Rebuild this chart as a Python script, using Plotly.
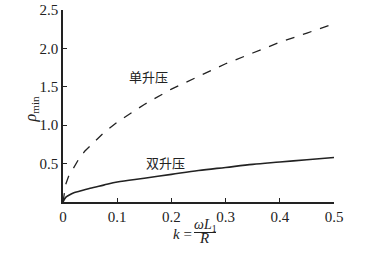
import plotly.graph_objects as go

k_vals = [0, 0.005, 0.01, 0.02, 0.03, 0.04, 0.05, 0.075, 0.1, 0.15, 0.2, 0.25, 0.3, 0.35, 0.4, 0.45, 0.5]
single_boost = [0, 0.23, 0.33, 0.46, 0.57, 0.66, 0.73, 0.90, 1.04, 1.27, 1.47, 1.64, 1.80, 1.94, 2.08, 2.20, 2.32]
double_boost = [0, 0.06, 0.085, 0.12, 0.14, 0.16, 0.18, 0.22, 0.26, 0.31, 0.36, 0.41, 0.45, 0.49, 0.52, 0.55, 0.58]

x_ticks = [0, 0.1, 0.2, 0.3, 0.4, 0.5]
x_tick_text = ["0", "0.1", "0.2", "0.3", "0.4", "0.5"]
y_ticks = [0.5, 1.0, 1.5, 2.0, 2.5]
y_tick_text = ["0.5", "1.0", "1.5", "2.0", "2.5"]

SERIF = "Liberation Serif, Times New Roman, serif"
CJK = "Noto Sans CJK SC"
INK = "#222222"

fig = go.Figure()
fig.add_trace(go.Scatter(x=k_vals, y=single_boost, mode="lines", line=dict(color=INK, width=1.3, dash="dash"), showlegend=False))
fig.add_trace(go.Scatter(x=k_vals, y=double_boost, mode="lines", line=dict(color=INK, width=1.6, shape="spline"), showlegend=False))

fig.update_layout(
    width=380, height=255,
    margin=dict(l=63, r=46, t=10, b=53, autoexpand=False),
    paper_bgcolor="white", plot_bgcolor="white",
    font=dict(family=SERIF, size=15, color=INK),
    xaxis=dict(range=[0, 0.5], tickvals=x_ticks, ticktext=x_tick_text, ticks="inside", ticklen=4,
               tickcolor=INK, showline=True, linecolor=INK, linewidth=1.5, showgrid=False, zeroline=False,
               automargin=False, tickfont=dict(family=SERIF, size=15, color=INK)),
    yaxis=dict(range=[0, 2.5], tickvals=y_ticks, ticktext=y_tick_text, ticks="inside", ticklen=4,
               tickcolor=INK, showline=True, linecolor=INK, linewidth=1.5, showgrid=False, zeroline=False,
               automargin=False, tickfont=dict(family=SERIF, size=15, color=INK)),
)

# y-axis label
fig.add_annotation(x=(20 - 63) / 271, y=(202 - 110) / 192, xref="paper", yref="paper",
                   text="<i>ρ</i><sub>min</sub>", showarrow=False, textangle=-90,
                   font=dict(family=SERIF, size=16, color=INK))

fig.add_annotation(x=0.157, y=1.64, xref="x", yref="y", text="单升压", showarrow=False,
                   font=dict(family=CJK, size=13, color=INK))
fig.add_annotation(x=0.19, y=0.51, xref="x", yref="y", text="双升压", showarrow=False,
                   font=dict(family=CJK, size=13, color=INK))

# x-axis label: k = ωL1 / R
fig.add_annotation(x=(182 - 63) / 271, y=(202 - 244) / 192, xref="paper", yref="paper",
                   text="<i>k</i> =", showarrow=False, font=dict(family=SERIF, size=15, color=INK))
fig.add_annotation(x=(205 - 63) / 271, y=(202 - 236) / 192, xref="paper", yref="paper",
                   text="<i>ωL</i><sub>1</sub>", showarrow=False, font=dict(family=SERIF, size=14, color=INK))
fig.add_shape(type="line", xref="paper", yref="paper",
              x0=(194 - 63) / 271, x1=(216 - 63) / 271, y0=(202 - 232.5) / 192, y1=(202 - 232.5) / 192,
              line=dict(color=INK, width=1))
fig.add_annotation(x=(204 - 63) / 271, y=(202 - 248) / 192, xref="paper", yref="paper",
                   text="<i>R</i>", showarrow=False, font=dict(family=SERIF, size=15, color=INK))

fig.write_html("out.html", config={"displayModeBar": False},
               post_script="document.body.style.margin='0';document.body.style.padding='0';")
